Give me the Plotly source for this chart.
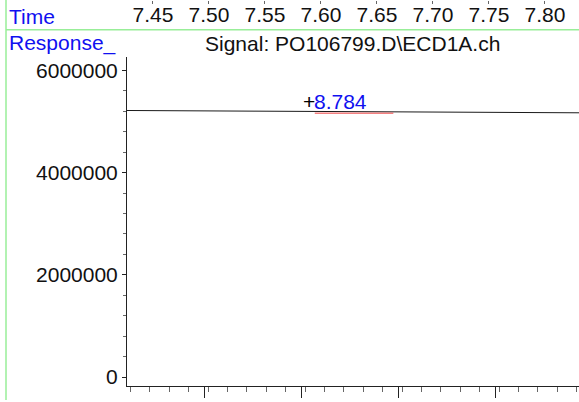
import plotly.graph_objects as go

# signal trace (time in min, response in counts)
time_min = [8.596, 8.65, 8.70, 8.75, 8.80, 8.85, 8.90, 8.95, 9.00, 9.065]
response = [5215000, 5211000, 5206000, 5198000, 5190000, 5184000, 5180000, 5177000, 5174000, 5170000]

# integrated peak
peak_time = 8.784
peak_label = "8.784"
peak_response = 5192000
baseline_time = [8.790, 8.871]
baseline_resp = [5163000, 5163000]

# tick labels of the chromatogram above (only its axis shows)
upper_range = [7.4268, 7.8304]
upper_ticks = [7.45, 7.50, 7.55, 7.60, 7.65, 7.70, 7.75, 7.80]

title = "Signal: PO106799.D\\ECD1A.ch"
FONT = "Liberation Sans, Arial, sans-serif"
BLUE = "#1010f0"
GREEN = "#98ee98"

W, H = 579, 402


def px(x):
    return x / W


def py(y):
    return 1 - y / H


fig = go.Figure()

fig.add_trace(go.Scatter(
    x=time_min, y=response, mode="lines",
    line=dict(color="#1a1a1a", width=1), hoverinfo="skip", showlegend=False,
))
fig.add_trace(go.Scatter(
    x=baseline_time, y=baseline_resp, mode="lines",
    line=dict(color="#f04040", width=1), hoverinfo="skip", showlegend=False,
))
# dummy trace so the upper time axis gets drawn
fig.add_trace(go.Scatter(
    x=upper_range, y=[0, 0], xaxis="x2", yaxis="y2", mode="lines",
    line=dict(width=0), hoverinfo="skip", showlegend=False,
))

fig.add_annotation(x=peak_time, y=peak_response, text="+", showarrow=False,
                   xanchor="center", yanchor="middle", yshift=10,
                   font=dict(family=FONT, size=21, color="black"))
fig.add_annotation(x=peak_time, y=peak_response, text=peak_label, showarrow=False,
                   xanchor="left", yanchor="middle", yshift=10, xshift=3,
                   font=dict(family=FONT, size=21, color=BLUE))

fig.add_annotation(x=px(7), y=py(17), xref="paper", yref="paper", text="Time",
                   showarrow=False, xanchor="left", yanchor="middle",
                   font=dict(family=FONT, size=21, color=BLUE))
fig.add_annotation(x=px(7), y=py(43), xref="paper", yref="paper", text="Response_",
                   showarrow=False, xanchor="left", yanchor="middle",
                   font=dict(family=FONT, size=21, color=BLUE))
fig.add_annotation(x=px(352), y=py(44), xref="paper", yref="paper", text=title,
                   showarrow=False, xanchor="center", yanchor="middle",
                   font=dict(family=FONT, size=21, color="#111"))

# light green frame lines
fig.add_shape(type="line", xref="paper", yref="paper",
              x0=px(6), x1=px(6), y0=0, y1=1, line=dict(color=GREEN, width=1.5))
fig.add_shape(type="line", xref="paper", yref="paper",
              x0=px(6), x1=1, y0=py(30), y1=py(30), line=dict(color=GREEN, width=1.5))

fig.update_layout(
    width=W, height=H,
    margin=dict(l=0, r=0, t=0, b=0),
    paper_bgcolor="white", plot_bgcolor="white",
    font=dict(family=FONT, size=21, color="#111"),
    xaxis=dict(
        domain=[px(127), 1], range=[8.5964, 9.0624],
        showgrid=False, zeroline=False, showline=True, linecolor="#222", linewidth=1,
        ticks="outside", ticklen=11, tickcolor="#222", tick0=8.6768, dtick=0.1,
        showticklabels=False,
        minor=dict(ticks="outside", ticklen=5, tickcolor="#666", dtick=0.02),
    ),
    yaxis=dict(
        domain=[1 - 388 / H, 1 - 57 / H], range=[-175000, 6267000],
        showgrid=False, zeroline=False, showline=True, linecolor="#222", linewidth=1,
        ticks="outside", ticklen=4, tickcolor="#222", tick0=0, dtick=2000000,
        tickformat="d", tickfont=dict(size=21, color="#111"),
        minor=dict(ticks="outside", ticklen=3, tickcolor="#666", dtick=400000),
    ),
    xaxis2=dict(
        domain=[px(127), 1], range=upper_range, anchor="free", position=1,
        side="bottom", showgrid=False, zeroline=False, showline=False,
        tickvals=upper_ticks, ticktext=[f"{t:.2f}" for t in upper_ticks],
        ticks="outside", ticklen=3, tickcolor="#666", ticklabelstandoff=-7,
        tickfont=dict(size=21, color="#111"),
    ),
    yaxis2=dict(domain=[0.99, 1], visible=False, range=[0, 1]),
)

# page margin off so the figure sits at the window's corner
fig.write_html("out.html", config={"displayModeBar": False},
               post_script="document.body.style.margin='0';")
